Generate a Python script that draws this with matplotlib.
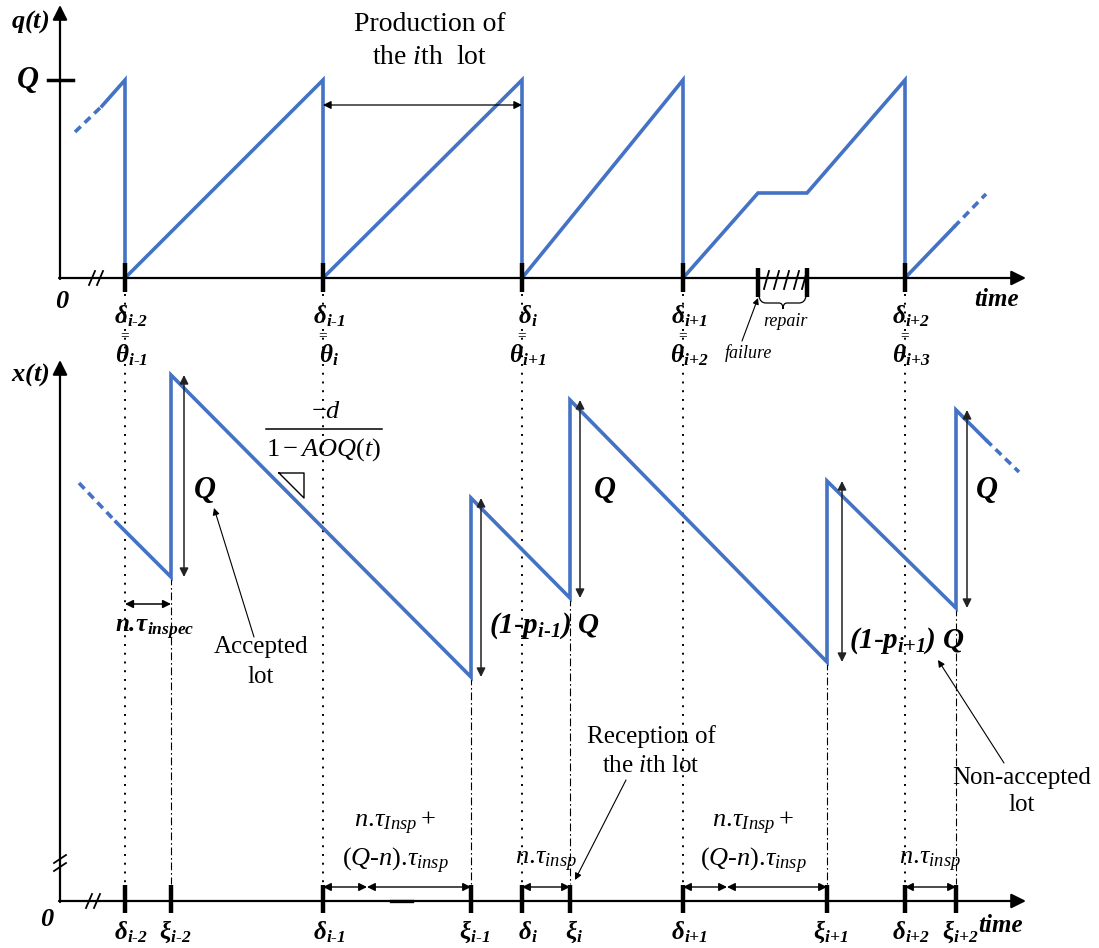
import matplotlib.pyplot as plt
from matplotlib.path import Path
from matplotlib.patches import PathPatch

plt.rcParams['font.family'] = ['Liberation Serif', 'DejaVu Serif']
plt.rcParams['mathtext.fontset'] = 'custom'
plt.rcParams['mathtext.rm'] = 'Liberation Serif'
plt.rcParams['mathtext.it'] = 'Liberation Serif:italic'
plt.rcParams['mathtext.bf'] = 'Liberation Serif:bold'
plt.rcParams['mathtext.bfit'] = 'Liberation Serif:bold:italic'

BLUE = '#4472C4'

# event positions along the time axis (shared by both panels)
delta_x = [125, 323, 522, 683, 905]
xi_x = [171, 471, 570, 827, 956]
delta_sub = ['i-2', 'i-1', 'i', 'i+1', 'i+2']
theta_sub = ['i-1', 'i', 'i+1', 'i+2', 'i+3']
xi_sub = ['i-2', 'i-1', 'i', 'i+1', 'i+2']
failure_x = 758
repair_end_x = 807

# q(t) panel (screen units, y grows downwards)
q_axis_y = 278
q_Q_y = 80
q_x = [102, 125, 125, 323, 323, 522, 522, 683, 683, 758, 807, 905, 905, 954]
q_y = [106, 80, 278, 80, 278, 80, 278, 80, 278, 193, 193, 80, 278, 227]
q_dash_in = ([75, 102], [132, 106])
q_dash_out = ([954, 986], [227, 194])

# x(t) panel
x_axis_y = 901
x_x = [116, 171, 171, 471, 471, 570, 570, 827, 827, 956, 956, 986]
x_y = [522, 577, 375, 677, 498, 598, 400, 662, 481, 608, 410, 440]
x_dash_in = ([79, 116], [483, 522])
x_dash_out = ([986, 1019], [440, 472])

# lot arrivals: arrow x, bottom, top
jump_x = [184, 481, 580, 842, 967]
jump_lo = [577, 677, 598, 662, 608]
jump_hi = [375, 498, 400, 481, 410]

fig = plt.figure(figsize=(10.99, 9.48), dpi=100)
ax = fig.add_axes([0, 0, 1, 1])
ax.set_xlim(0, 1099)
ax.set_ylim(948, 0)
ax.axis('off')


def arrow(x0, y0, x1, y1, style='<|-|>', lw=1.0, ms=12, color='black'):
    ax.annotate('', xy=(x1, y1), xytext=(x0, y0),
                arrowprops=dict(arrowstyle=style, lw=lw, color=color,
                                shrinkA=0, shrinkB=0, mutation_scale=ms))


def bfit_sub(base, sub):
    sub = sub.replace('-', r'\text{-}').replace('+', '{+}')
    return r'$\mathbfit{%s}_{\mathbfit{%s}}$' % (base, sub)


def brk(x, y, vertical=False):
    for d in (-4, 4):
        if vertical:
            ax.plot([x - 6, x + 6], [y + d + 4, y + d - 4], color='black', lw=1.3)
        else:
            ax.plot([x + d - 3, x + d + 3], [y + 7, y - 7], color='black', lw=1.3)


DASH = (0, (2.2, 1.5))

# ---------------- top panel: q(t) ----------------
arrow(60, q_axis_y + 1, 60, 5, style='-|>', lw=1.6, ms=22)
arrow(59, q_axis_y, 1026, q_axis_y, style='-|>', lw=1.6, ms=22)
ax.plot([93, 100], [q_axis_y, q_axis_y], color='white', lw=3)
brk(96, q_axis_y)
ax.plot([48, 73], [q_Q_y, q_Q_y], color='black', lw=2.5)
ax.text(28, q_Q_y, r'$\mathbfit{Q}$', fontsize=22, ha='center', va='center')
ax.text(30, 22, r'$\mathbfit{q(t)}$', fontsize=19, ha='center', va='center')
ax.text(62, 302, r'$\mathbfit{0}$', fontsize=19, ha='center', va='center')
ax.text(997, 300, 'time', fontsize=18, fontweight='bold', fontstyle='italic',
        ha='center', va='center')

ax.plot(q_x, q_y, color=BLUE, lw=2.6, solid_joinstyle='miter')
ax.plot(*q_dash_in, color=BLUE, lw=2.6, ls=DASH)
ax.plot(*q_dash_out, color=BLUE, lw=2.6, ls=DASH)

for x in delta_x:
    ax.plot([x, x], [263, 292], color='black', lw=3.2, solid_capstyle='butt')
for x in (failure_x, repair_end_x):
    ax.plot([x, x], [268, 297], color='black', lw=3.2, solid_capstyle='butt')
for x in (764, 774, 784, 794, 802):
    ax.plot([x, x + 5], [289, 271], color='black', lw=1.3)

brace = Path([(failure_x + 1, 296), (failure_x + 2, 303), (failure_x + 8, 303),
              (779, 303), (783, 303), (783, 309),
              (783, 303), (787, 303),
              (repair_end_x - 8, 303), (repair_end_x - 2, 303), (repair_end_x - 1, 296)],
             [Path.MOVETO, Path.CURVE3, Path.CURVE3,
              Path.LINETO, Path.CURVE3, Path.CURVE3,
              Path.CURVE3, Path.CURVE3,
              Path.LINETO, Path.CURVE3, Path.CURVE3])
ax.add_patch(PathPatch(brace, fill=False, lw=0.9, color='black'))
ax.text(785, 322, 'repair', fontsize=13, fontstyle='italic', ha='center', va='center')
arrow(742, 341, failure_x, 298, style='-|>', lw=0.8, ms=9)
ax.text(748, 353, 'failure', fontsize=13, fontstyle='italic', ha='center', va='center')

arrow(323, 105, 522, 105, lw=0.9, ms=12)
ax.text(430, 24, 'Production of', fontsize=20, ha='center', va='center')
ax.text(430, 57, r'the $\mathit{i}$th  lot', fontsize=20, ha='center', va='center')

for x, ds, ts in zip(delta_x, delta_sub, theta_sub):
    ax.text(x + 6, 316, bfit_sub('δ', ds), fontsize=18, ha='center', va='center')
    ax.text(x, 336, '=', fontsize=11, fontweight='bold', ha='center', va='center')
    ax.text(x + 6, 355, bfit_sub('θ', ts), fontsize=18, ha='center', va='center')

# ---------------- bottom panel: x(t) ----------------
arrow(60, x_axis_y + 1, 60, 360, style='-|>', lw=1.6, ms=22)
arrow(59, x_axis_y, 1026, x_axis_y, style='-|>', lw=1.6, ms=22)
ax.plot([60, 60], [858, 868], color='white', lw=3)
brk(60, 863, vertical=True)
ax.plot([90, 97], [x_axis_y, x_axis_y], color='white', lw=3)
brk(93, x_axis_y)
ax.plot([391, 412], [x_axis_y, x_axis_y], color='black', lw=2.4)
ax.text(30, 375, r'$\mathbfit{x(t)}$', fontsize=19, ha='center', va='center')
ax.text(47, 920, r'$\mathbfit{0}$', fontsize=19, ha='center', va='center')
ax.text(1001, 925, 'time', fontsize=18, fontweight='bold', fontstyle='italic',
        ha='center', va='center')

# guide lines
for x in delta_x:
    ax.plot([x, x], [294, 884], color='black', lw=1.4, ls=(0, (1, 3.5)), zorder=0)
for x, lo in zip(xi_x, jump_lo):
    ax.plot([x, x], [lo, 884], color='black', lw=0.8, ls=(0, (7, 2.5, 1.5, 2.5)), zorder=0)

ax.plot(x_x, x_y, color=BLUE, lw=2.6, solid_joinstyle='miter')
ax.plot(*x_dash_in, color=BLUE, lw=2.6, ls=DASH)
ax.plot(*x_dash_out, color=BLUE, lw=2.6, ls=DASH)

for x in delta_x + xi_x:
    ax.plot([x, x], [885, 913], color='black', lw=3.2, solid_capstyle='butt')

for x, lo, hi in zip(jump_x, jump_lo, jump_hi):
    arrow(x, lo, x, hi, lw=1.1, ms=13, color='#222222')

for x in (205, 605, 987):
    ax.text(x, 490, r'$\mathbfit{Q}$', fontsize=22, ha='center', va='center')
ax.text(489, 626, r'$\mathbfit{(1\text{-}p}_{\mathbfit{i\text{-}1}}\mathbfit{)\ Q}$',
        fontsize=21, ha='left', va='center')
ax.text(849, 641, r'$\mathbfit{(1\text{-}p}_{\mathbfit{i{+}1}}\mathbfit{)\ Q}$',
        fontsize=21, ha='left', va='center')

# slope annotation
ax.text(326, 412, r'$-\mathit{d}$', fontsize=19, ha='center', va='center')
ax.plot([266, 382], [429, 429], color='black', lw=1.1)
ax.text(324, 450, r'$1-\mathit{AOQ}(\mathit{t})$', fontsize=19, ha='center', va='center')
ax.plot([279, 304, 304, 279], [473, 473, 498, 473], color='black', lw=1.0)

# inspection time of the (i-2)th lot
arrow(125, 604, 171, 604, lw=1.1, ms=12)
ax.text(155, 630, r'$\mathbfit{n.}\!\mathbfit{τ}_{\mathbfit{inspec}}$', fontsize=18,
        ha='center', va='center')

ax.text(261, 647, 'Accepted', fontsize=18, ha='center', va='center')
ax.text(261, 677, 'lot', fontsize=18, ha='center', va='center')
arrow(254, 637, 214, 508, style='-|>', lw=0.8, ms=10)

ax.text(1022, 778, 'Non-accepted', fontsize=18, ha='center', va='center')
ax.text(1022, 805, 'lot', fontsize=18, ha='center', va='center')
arrow(1004, 763, 938, 660, style='-|>', lw=0.8, ms=10)

ax.text(651, 737, 'Reception of', fontsize=18, ha='center', va='center')
ax.text(651, 766, r'the $\mathit{i}$th lot', fontsize=18, ha='center', va='center')
arrow(626, 780, 575, 880, style='-|>', lw=0.8, ms=10)

# inspection durations on the time axis
for d, x in ((delta_x[1], xi_x[1]), (delta_x[3], xi_x[3])):
    mid = d + 44
    arrow(d, 887, mid, 887, lw=1.0, ms=12)
    arrow(mid, 887, x, 887, lw=1.0, ms=12)
    ax.text((d + x) / 2 - 2, 823, r'$\mathit{n.}\!\mathit{τ}_{\mathit{Insp}}+$', fontsize=19,
            ha='center', va='center')
    ax.text((d + x) / 2 - 2, 861,
            r'$(\mathit{Q}\text{-}\mathit{n})\text{.}\mathit{τ}_{\mathit{insp}}$',
            fontsize=19, ha='center', va='center')
for d, x in ((delta_x[2], xi_x[2]), (delta_x[4], xi_x[4])):
    arrow(d, 887, x, 887, lw=1.0, ms=12)
    ax.text((d + x) / 2, 862, r'$\mathit{n.}\!\mathit{τ}_{\mathit{insp}}$', fontsize=19,
            ha='center', va='center')

for x, s in zip(delta_x, delta_sub):
    ax.text(x + 6, 932, bfit_sub('δ', s), fontsize=18, ha='center', va='center')
for x, s in zip(xi_x, xi_sub):
    ax.text(x + 4, 932, bfit_sub('ξ', s), fontsize=18, ha='center', va='center')

fig.savefig('out.png', dpi=100)
